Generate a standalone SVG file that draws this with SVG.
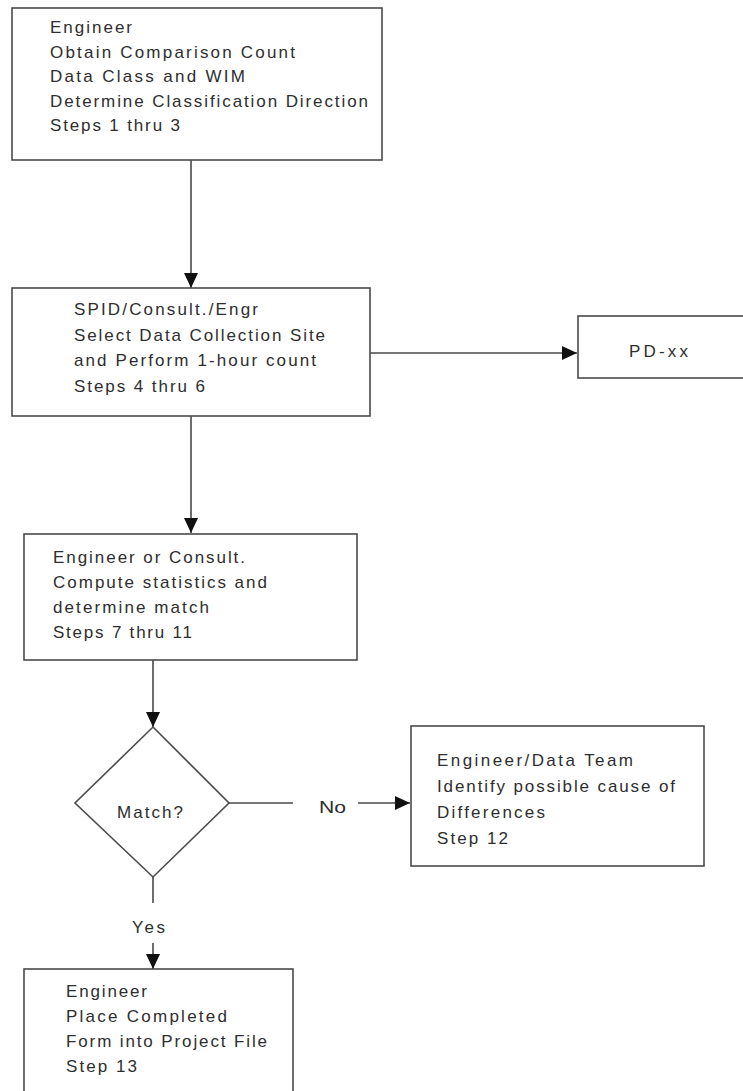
<svg xmlns="http://www.w3.org/2000/svg" width="743" height="1091" viewBox="0 0 743 1091">
  <style>
    .box { fill: #ffffff; stroke: #4a4a4a; stroke-width: 1.6; }
    .line { fill: none; stroke: #4a4a4a; stroke-width: 1.6; }
    .txt { font-family: "Liberation Sans", Arial, sans-serif; font-size: 17px; fill: #2e2e2e; }
  </style>
  <defs>
    <marker id="arrow" markerUnits="userSpaceOnUse" markerWidth="16" markerHeight="16" viewBox="0 0 16 16" refX="15" refY="8" orient="auto">
      <path d="M0,1 L15,8 L0,15 Z" fill="#111111"/>
    </marker>
  </defs>
  <rect width="743" height="1091" fill="#ffffff"/>

  <!-- connectors -->
  <g id="connectors">
    <line class="line" x1="191" y1="160" x2="191" y2="288" marker-end="url(#arrow)"/>
    <line class="line" x1="191" y1="416" x2="191" y2="533" marker-end="url(#arrow)"/>
    <line class="line" x1="370" y1="353" x2="577" y2="353" marker-end="url(#arrow)"/>
    <line class="line" x1="153" y1="660" x2="153" y2="727" marker-end="url(#arrow)"/>
    <line class="line" x1="229" y1="803" x2="293" y2="803"/>
    <line class="line" x1="358" y1="803" x2="410" y2="803" marker-end="url(#arrow)"/>
    <line class="line" x1="153" y1="877" x2="153" y2="903"/>
    <line class="line" x1="153" y1="943" x2="153" y2="969" marker-end="url(#arrow)"/>
    <text class="txt" x="319" y="813" textLength="27" lengthAdjust="spacingAndGlyphs">No</text>
    <text class="txt" x="132" y="933" textLength="33" lengthAdjust="spacing">Yes</text>
  </g>

  <!-- step 1-3 -->
  <g id="node-engineer-obtain">
    <rect class="box" x="12" y="8" width="370" height="152"/>
    <text class="txt" x="50" y="33" textLength="82" lengthAdjust="spacing">Engineer</text>
    <text class="txt" x="50" y="58" textLength="245" lengthAdjust="spacing">Obtain Comparison Count</text>
    <text class="txt" x="50" y="82" textLength="195" lengthAdjust="spacing">Data Class and WIM</text>
    <text class="txt" x="50" y="107" textLength="318" lengthAdjust="spacing">Determine Classification Direction</text>
    <text class="txt" x="50" y="131" textLength="130" lengthAdjust="spacing">Steps 1 thru 3</text>
  </g>

  <!-- step 4-6 -->
  <g id="node-select-site">
    <rect class="box" x="12" y="288" width="358" height="128"/>
    <text class="txt" x="74" y="315" textLength="184" lengthAdjust="spacing">SPID/Consult./Engr</text>
    <text class="txt" x="74" y="341" textLength="251" lengthAdjust="spacing">Select Data Collection Site</text>
    <text class="txt" x="74" y="366" textLength="242" lengthAdjust="spacing">and Perform 1-hour count</text>
    <text class="txt" x="74" y="392" textLength="131" lengthAdjust="spacing">Steps 4 thru 6</text>
  </g>

  <!-- PD-xx -->
  <g id="node-pd">
    <rect class="box" x="578" y="316" width="180" height="62"/>
    <text class="txt" x="629" y="357" textLength="59" lengthAdjust="spacing">PD-xx</text>
  </g>

  <!-- step 7-11 -->
  <g id="node-compute">
    <rect class="box" x="24" y="534" width="333" height="126"/>
    <text class="txt" x="53" y="563" textLength="192" lengthAdjust="spacing">Engineer or Consult.</text>
    <text class="txt" x="53" y="588" textLength="214" lengthAdjust="spacing">Compute statistics and</text>
    <text class="txt" x="53" y="613" textLength="156" lengthAdjust="spacing">determine match</text>
    <text class="txt" x="53" y="638" textLength="139" lengthAdjust="spacing">Steps 7 thru 11</text>
  </g>

  <!-- decision -->
  <g id="node-match">
    <polygon class="box" points="153,727 229,803 153,877 75,803"/>
    <text class="txt" x="117" y="818" textLength="66" lengthAdjust="spacing">Match?</text>
  </g>

  <!-- step 12 -->
  <g id="node-differences">
    <rect class="box" x="411" y="726" width="293" height="140"/>
    <text class="txt" x="437" y="766" textLength="196" lengthAdjust="spacing">Engineer/Data Team</text>
    <text class="txt" x="437" y="792" textLength="238" lengthAdjust="spacing">Identify possible cause of</text>
    <text class="txt" x="437" y="818" textLength="108" lengthAdjust="spacing">Differences</text>
    <text class="txt" x="437" y="844" textLength="71" lengthAdjust="spacing">Step 12</text>
  </g>

  <!-- step 13 -->
  <g id="node-project-file">
    <rect class="box" x="24" y="969" width="269" height="140"/>
    <text class="txt" x="66" y="997" textLength="81" lengthAdjust="spacing">Engineer</text>
    <text class="txt" x="66" y="1022" textLength="161" lengthAdjust="spacing">Place Completed</text>
    <text class="txt" x="66" y="1047" textLength="201" lengthAdjust="spacing">Form into Project File</text>
    <text class="txt" x="66" y="1072" textLength="71" lengthAdjust="spacing">Step 13</text>
  </g>
</svg>
